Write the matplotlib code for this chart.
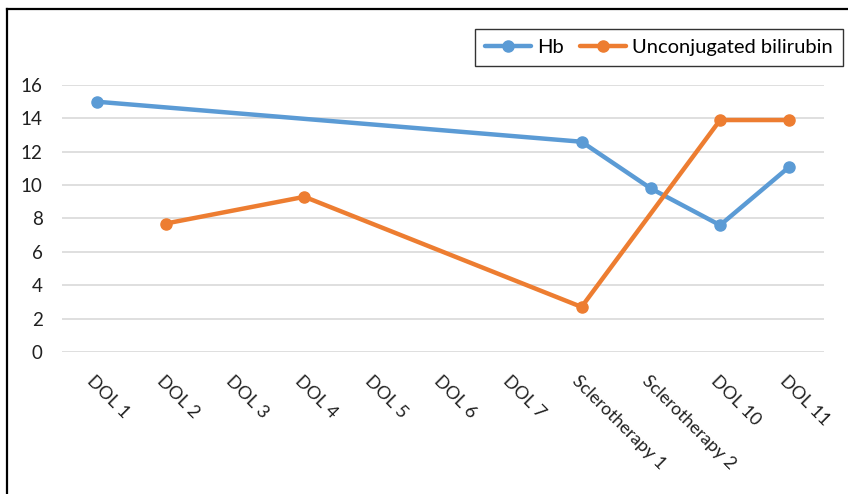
import matplotlib.pyplot as plt
import matplotlib.transforms as mtransforms
import numpy as np
from matplotlib.lines import Line2D

plt.rcParams["font.family"] = ["Lato", "DejaVu Sans"]

days = ["DOL 1", "DOL 2", "DOL 3", "DOL 4", "DOL 5", "DOL 6", "DOL 7",
        "Sclerotherapy 1", "Sclerotherapy 2", "DOL 10", "DOL 11"]
hb = [15.0, None, None, None, None, None, None, 12.6, 9.8, 7.6, 11.1]
bilirubin = [None, 7.7, None, 9.3, None, None, None, 2.7, None, 13.9, 13.9]

BLUE = "#5B9BD5"
ORANGE = "#ED7D31"


def present(values):
    # gaps are bridged, like a connected line over empty cells
    idx = np.array([i for i, v in enumerate(values) if v is not None])
    vals = np.array([values[i] for i in idx], dtype=float)
    return idx, vals


W, H = 848, 494
fig = plt.figure(figsize=(W / 100, H / 100), dpi=100)
ax = fig.add_axes([62 / W, 1 - 352 / H, (824 - 62) / W, (352 - 85) / H])

for values, color, label in [(hb, BLUE, "Hb"),
                             (bilirubin, ORANGE, "Unconjugated bilirubin")]:
    x, y = present(values)
    ax.plot(x, y, color=color, lw=3.2, marker="o", ms=8, label=label,
            solid_capstyle="round", zorder=3)

ax.set_xlim(-0.5, len(days) - 0.5)
ax.set_ylim(0, 16)
ax.set_yticks(np.arange(0, 17, 2))
ax.yaxis.grid(True, color="#D9D9D9", lw=1.2)
ax.set_axisbelow(True)
for s in ax.spines.values():
    s.set_visible(False)
ax.tick_params(axis="both", length=0)
ax.tick_params(axis="y", pad=14, labelsize=13.5, labelcolor="#202020")

ax.set_xticks(range(len(days)))
ax.set_xticklabels(days, rotation=-45, ha="left", va="top",
                   rotation_mode="anchor", fontsize=13, color="#202020")
ax.tick_params(axis="x", pad=15)
shift = mtransforms.ScaledTranslation(-0.01, 0, fig.dpi_scale_trans)
for lbl in ax.get_xticklabels():
    lbl.set_transform(lbl.get_transform() + shift)

leg = ax.legend(loc="upper right", bbox_to_anchor=(843 / W, 1 - 29 / H),
                bbox_transform=fig.transFigure, borderaxespad=0, ncol=2,
                fontsize=14.5, frameon=True, fancybox=False, handlelength=2.3,
                columnspacing=0.8, handletextpad=0.3, borderpad=0.5)
leg.get_frame().set_edgecolor("black")
leg.get_frame().set_linewidth(1.0)

# outer frame: only the left and top edges show
fig.add_artist(Line2D([6.5 / W, 6.5 / W], [0, 1 - 9.5 / H],
                      transform=fig.transFigure, color="black", lw=1.6))
fig.add_artist(Line2D([6.5 / W, 1], [1 - 9.5 / H, 1 - 9.5 / H],
                      transform=fig.transFigure, color="black", lw=1.6))

fig.savefig("out.png", dpi=100)
